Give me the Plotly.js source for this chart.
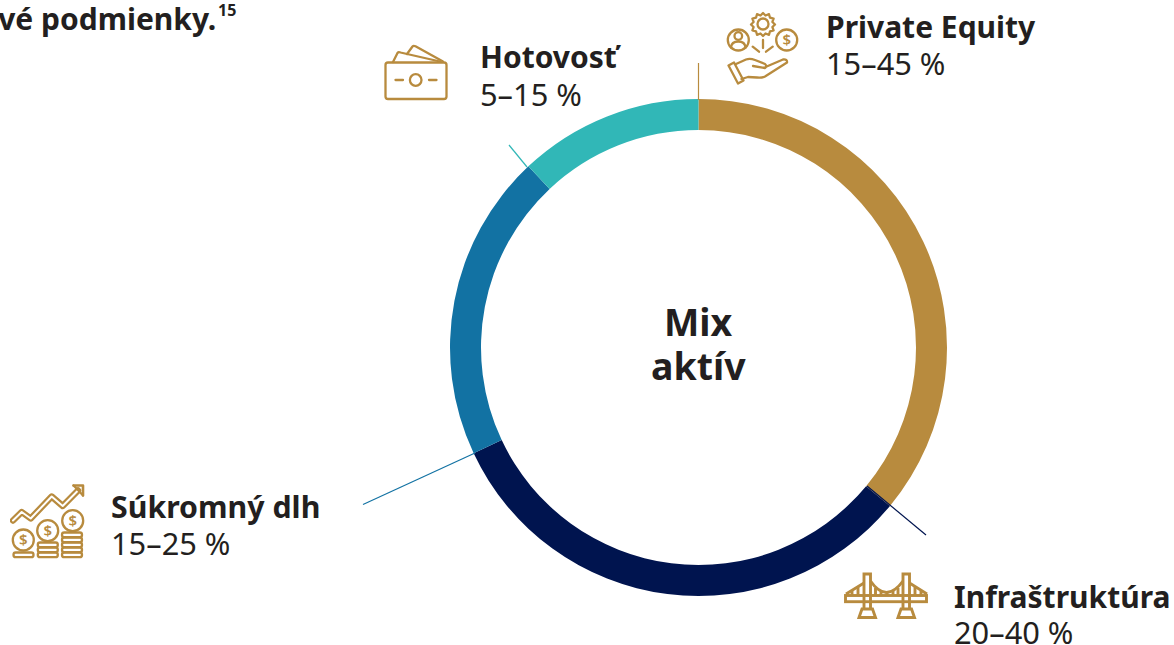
<!DOCTYPE html>
<html><head><meta charset="utf-8">
<script src="https://cdn.plot.ly/plotly-3.0.1.min.js"></script>
<style>html,body{margin:0;padding:0;background:#fff;overflow:hidden}#c{width:1174px;height:645px}</style>
</head><body><div id="c"></div>
<script>
const categories = ['Private Equity','Infraštruktúra','Súkromný dlh','Hotovosť'];
const values = [36,32,20,12];
const ranges = ['15–45 %','20–40 %','15–25 %','5–15 %'];
const colors = ['#B88B3E','#00144F','#1272A3','#31B7B7'];
const centerLines = ['Mix','aktív'];
const headerText = 'ové podmienky.';
const headerNote = '15';

const W=1174,H=645, G='#B88B3E', INK='#231F20', FONT='"Noto Sans","Open Sans",sans-serif';
const px=x=>x/W, py=y=>1-y/H;

function icon(x,y,w,h,body){
  const svg=`<svg xmlns="http://www.w3.org/2000/svg" width="${w*2}" height="${h*2}" viewBox="${x} ${y} ${w} ${h}"><g fill="none" stroke="${G}" stroke-width="2.3" stroke-linecap="round" stroke-linejoin="round">${body}</g></svg>`;
  return {source:'data:image/svg+xml;charset=utf-8,'+encodeURIComponent(svg),xref:'paper',yref:'paper',
    x:px(x),y:py(y),sizex:w/W,sizey:h/H,xanchor:'left',yanchor:'top',sizing:'stretch',layer:'above'};
}
const dollar=(x,y,s)=>`<text x="${x}" y="${y+s*0.36}" text-anchor="middle" font-family="Noto Sans" font-size="${s}" font-weight="600" fill="${G}" stroke="none">$</text>`;

const wallet=`<rect x="385.5" y="62.5" width="61" height="36.5" rx="2.5"/>
<path d="M393 62 L397.5 53 Q398.5 51.5 400.5 52.5 L440 61.5"/>
<path d="M407 54 L412.5 46.5 Q413.5 45.3 415.5 46.3 L443 61.5"/>
<circle cx="415.7" cy="80" r="5.8"/><path d="M395.5 80H403 M429 80H436.5"/>`;

const hand=`<circle cx="738.3" cy="40" r="10.5"/><circle cx="786.7" cy="40" r="10.5"/>${dollar(786.7,40,15)}
<circle cx="738.3" cy="36" r="3.8"/><path d="M731 47.5 Q731.5 41.5 738.3 41.5 Q745 41.5 745.5 47.5"/>
<circle cx="763" cy="24" r="5.5"/>
<path d="M763 13 L765.5 15.5 L769 14.2 L770 17.7 L773.6 18.7 L772.4 22 L775 24.5 L772.4 27 L773.6 30.3 L770 31.3 L769 34.8 L765.5 33.5 L763 36 L760.5 33.5 L757 34.8 L756 31.3 L752.4 30.3 L753.6 27 L751 24.5 L753.6 22 L752.4 18.7 L756 17.7 L757 14.2 L760.5 15.5 Z"/>
<path d="M763 40V48 M752.7 46.7L759 51.7 M772.7 46.7L766 51.7"/>
<path d="M728.5 65.5L734 62.5L743.5 80.5L738 83.5Z"/>
<path d="M736 64L746 59.5Q750 58 755 60L765 64Q767.5 66.5 765 68L753 66 M765.5 67L783 59.5Q787.5 59 787 62.5L765 76.5Q762 78 757 77.5L748 77L741.5 79"/>`;

const coin=(x,y)=>`<circle cx="${x}" cy="${y}" r="10.5"/>${dollar(x,y,15)}`;
const plate=(x,y,w)=>`<rect x="${x}" y="${y}" width="${w}" height="4.6" rx="2.2"/>`;
let stacks=plate(13.5,552.5,20);
[543,548,553].forEach(y=>stacks+=plate(37.8,y-0.5,20));
[533,538,543,548,553].forEach(y=>stacks+=plate(62,y-0.5,20));
const growth=`<path d="M13 520.5L21.7 512L30.7 518.5L51.7 496.5L62.7 506L78 490.5" stroke-width="6.4"/>
<path d="M13 520.5L21.7 512L30.7 518.5L51.7 496.5L62.7 506L78 490.5" stroke="#fff" stroke-width="2"/>
<path d="M73.5 485.5H83V495.5" stroke-width="2.6"/>
<path d="M73.5 485.5L77 489L83 495.5" stroke-width="2.2"/>
${coin(23.3,540)}${coin(47.7,530.7)}${coin(72.7,520.7)}${stacks}`;

const bridge=`<g stroke-width="2.9" stroke-linecap="butt" stroke-linejoin="miter">
<path d="M864 609V574H870.5V609 M903 609V574H909.5V609"/>
<rect x="845.5" y="595.5" width="81" height="6.2"/>
<path d="M859 617.5L862 609H872.5L875.5 617.5Z M898 617.5L901 609H911.5L914.5 617.5Z"/>
<path d="M870.5 581Q878 592 886.5 592.5Q895 592 903 581"/>
<path d="M864 583L846 594 M909.5 583L927 594"/>
<path d="M858 587V595 M852 591V595 M875.5 588V595 M881 591V595 M887 592V595 M893 591V595 M898 588V595 M915 587V595 M921 591V595"/>
</g>`;

const images=[icon(383,43,66,58,wallet),icon(726,11,74,74,hand),icon(10,483,76,76,growth),icon(843,571,86,49,bridge)];

function lineShape(x0,y0,x1,y1,color){
  return {type:'line',xref:'paper',yref:'paper',x0:px(x0),y0:py(y0),x1:px(x1),y1:py(y1),line:{color:color,width:1.2},layer:'above'};
}
const shapes=[
  lineShape(698.5,63,698.5,100,colors[0]),
  lineShape(867,486,926,535,colors[1]),
  lineShape(363,504.5,475,453,colors[2]),
  lineShape(509,145,527,167,colors[3])
];

function txt(s,x,y,size,bold,anchor,color){
  return {text:s,xref:'paper',yref:'paper',x:px(x),y:py(y),xanchor:anchor||'left',yanchor:'middle',showarrow:false,
    borderpad:0,borderwidth:0,font:{family:FONT,size:size,color:color||INK,weight:bold?700:400}};
}
const labelPos=[[826,27,63],[954,596,632],[111,506,543],[480,57,94]];
const annotations=[];
categories.forEach((c,i)=>{
  annotations.push(txt(c,labelPos[i][0],labelPos[i][1],i===2?30.3:30,true));
  annotations.push(txt(ranges[i],labelPos[i][0],labelPos[i][2],30.8,false));
});
annotations.push(txt(centerLines[0],698.5,321.5,37.5,true,'center'));
annotations.push(txt(centerLines[1],698.5,365.5,37.5,true,'center'));
annotations.push(txt(headerText,216,18,30,true,'right'));
annotations.push(txt(headerNote,218,10,16,true,'left'));

Plotly.newPlot('c',[{type:'pie',labels:categories,values:values,hole:217.5/248.5,sort:false,direction:'clockwise',rotation:0,
  marker:{colors:colors,line:{width:0}},textinfo:'none',hoverinfo:'skip',showlegend:false,
  domain:{x:[450/W,947/W],y:[1-596/H,1-99/H]}}],
 {width:W,height:H,margin:{l:0,r:0,t:0,b:0},paper_bgcolor:'#fff',showlegend:false,
  images:images,shapes:shapes,annotations:annotations},{displayModeBar:false,staticPlot:true});
</script></body></html>
